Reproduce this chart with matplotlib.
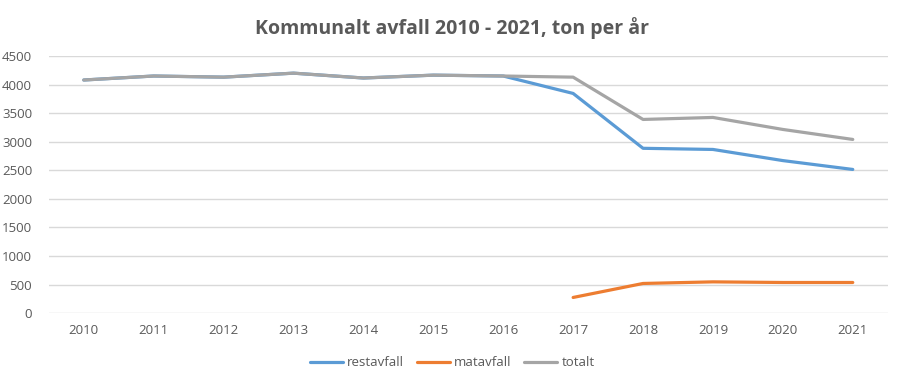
import numpy as np
import matplotlib.pyplot as plt

plt.rcParams["font.family"] = ["Open Sans", "DejaVu Sans"]

years = ["2010", "2011", "2012", "2013", "2014", "2015", "2016", "2017", "2018", "2019", "2020", "2021"]
restavfall = [4080, 4150, 4130, 4200, 4115, 4165, 4150, 3845, 2885, 2865, 2670, 2515]
matavfall = [np.nan, np.nan, np.nan, np.nan, np.nan, np.nan, np.nan, 275, 520, 548, 537, 537]
totalt = [4080, 4150, 4130, 4200, 4115, 4165, 4150, 4130, 3390, 3425, 3215, 3040]

fig = plt.figure(figsize=(9.04, 3.81), dpi=100)
ax = fig.add_axes([0.054, 0.178, 0.928, 0.675])

x = np.arange(len(years))
ax.plot(x, restavfall, color="#5B9BD5", lw=2.3, label="restavfall", solid_capstyle="round")
ax.plot(x, matavfall, color="#ED7D31", lw=2.3, label="matavfall", solid_capstyle="round")
ax.plot(x, totalt, color="#A5A5A5", lw=2.3, label="totalt", solid_capstyle="round")

ax.set_xlim(-0.5, len(years) - 0.5)
ax.set_ylim(0, 4500)
ax.set_yticks(range(0, 4501, 500))
ax.set_xticks(x)
ax.set_xticklabels(years)
ax.grid(axis="y", color="#D9D9D9", lw=1)
ax.set_axisbelow(True)
for s in ax.spines.values():
    s.set_visible(False)
ax.tick_params(length=0, labelsize=9.5, colors="#595959", pad=8)
ax.tick_params(axis="y", pad=12)

fig.suptitle("Kommunalt avfall 2010 - 2021, ton per år", y=0.955, fontsize=14,
             fontweight="bold", color="#595959")
fig.legend(loc="lower center", ncol=3, frameon=False, fontsize=9.5,
           labelcolor="#595959", bbox_to_anchor=(0.50, 0.0), handlelength=2.5,
           columnspacing=1.0, handletextpad=0.3)

fig.savefig("out.png", dpi=100)
